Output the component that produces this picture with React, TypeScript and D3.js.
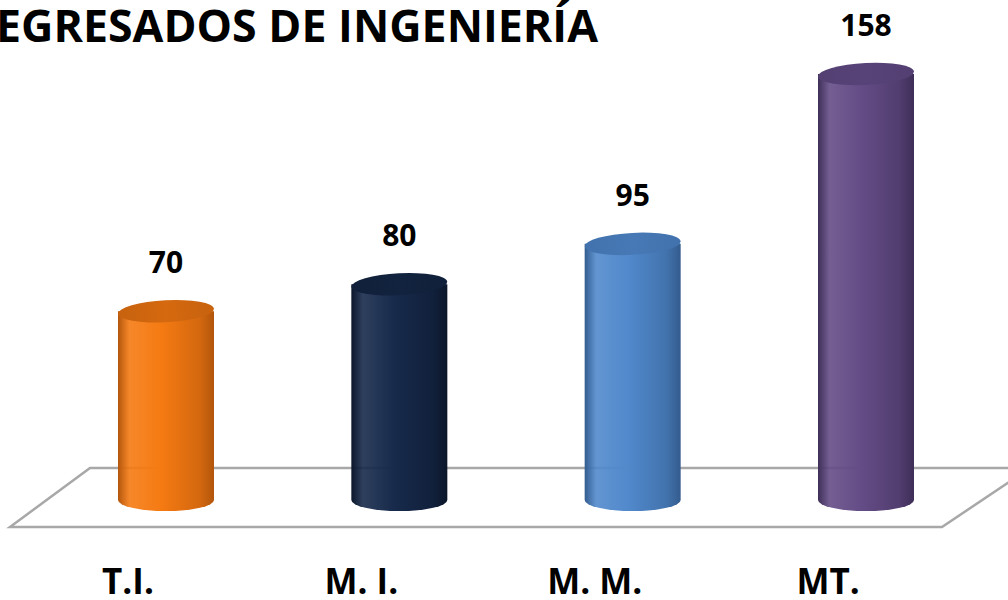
import React from 'react';
import * as d3 from 'd3';

const categories = ['T.I.', 'M. I.', 'M. M.', 'MT.'];
const values = [70, 80, 95, 158];
const baseColors = ['#F57A12', '#172A4B', '#5189CC', '#644C86'];
const edgeColors = ['#B2560C', '#0B162A', '#335C8E', '#3E2E57'];
const topColors = ['#C7620E', '#10203A', '#4272AD', '#533F72'];

const W = 1008;
const H = 600;

const App = () => {
  const x = d3.scalePoint<string>().domain(categories).range([166, 866]);
  const y = d3.scaleLinear().domain([0, 158]).range([500, 74]);
  const rx = 48;
  const ry = 11;

  // floor parallelogram
  const floor = d3.path();
  floor.moveTo(10, 527);
  floor.lineTo(90, 468);
  floor.lineTo(1030, 468);
  floor.lineTo(942, 527);
  floor.closePath();

  return (
    <svg width={W} height={H} style={{ position: 'absolute', left: 0, top: 0, background: '#fff' }}
      fontFamily="'Open Sans', 'Liberation Sans', sans-serif">
      <defs>
        {categories.map((c, i) => (
          <linearGradient key={c} id={`g${i}`} x1="0" x2="1" y1="0" y2="0">
            <stop offset="0" stopColor={edgeColors[i]} />
            <stop offset="0.12" stopColor={baseColors[i]} stopOpacity={0.9} />
            <stop offset="0.45" stopColor={baseColors[i]} />
            <stop offset="0.85" stopColor={d3.interpolateRgb(baseColors[i], edgeColors[i])(0.5)} />
            <stop offset="1" stopColor={edgeColors[i]} />
          </linearGradient>
        ))}
        {categories.map((c, i) => (
          <linearGradient key={c} id={`t${i}`} x1="0" x2="1" y1="0" y2="0">
            <stop offset="0" stopColor={topColors[i]} />
            <stop offset="0.5" stopColor={d3.interpolateRgb(topColors[i], baseColors[i])(0.3)} />
            <stop offset="1" stopColor={topColors[i]} />
          </linearGradient>
        ))}
      </defs>

      <text x={-4} y={42} fontSize={44} fontWeight="bold" fill="#000"
        textLength={602} lengthAdjust="spacingAndGlyphs">EGRESADOS DE INGENIERÍA</text>

      <path d={floor.toString()} fill="#fff" stroke="#A8A8A8" strokeWidth={2.5} />

      {categories.map((c, i) => {
        const cx = x(c) as number;
        const yt = y(values[i]);
        const yb = y(0);
        const body = `M${cx - rx},${yt} L${cx - rx},${yb} A${rx},${ry} 0 0 0 ${cx + rx},${yb} L${cx + rx},${yt} Z`;
        return (
          <g key={c}>
            <path d={body} fill={`url(#g${i})`} />
            <ellipse cx={cx} cy={yt} rx={rx} ry={ry} fill={`url(#t${i})`} transform={`rotate(-3 ${cx} ${yt})`} />
            <text x={cx} y={yt - 38} textAnchor="middle" fontSize={30} fontWeight="bold" fill="#000">{values[i]}</text>
            <text x={cx - 38} y={594} textAnchor="middle" fontSize={35} fontWeight="bold" fill="#000">{c}</text>
          </g>
        );
      })}
    </svg>
  );
};

export default App;
